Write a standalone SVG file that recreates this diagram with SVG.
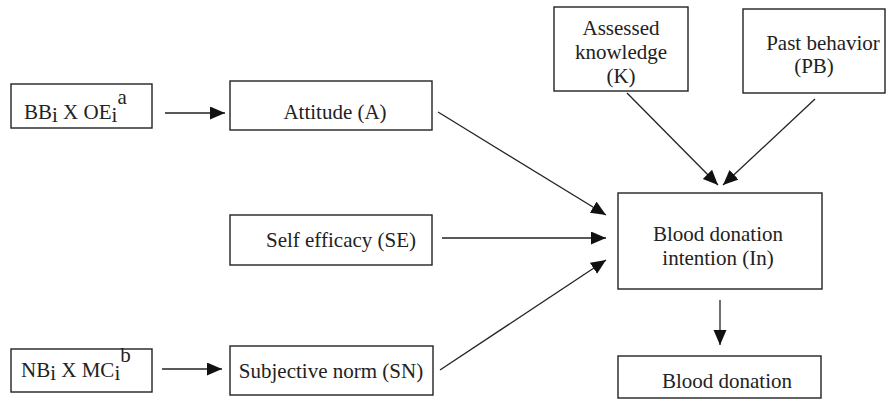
<svg xmlns="http://www.w3.org/2000/svg" width="887" height="404" viewBox="0 0 887 404">
<style>
.box{fill:#fff;stroke:#222;stroke-width:1.4}
.t{font-family:"Liberation Serif","Times New Roman",serif;font-size:21px;fill:#222}
.m{text-anchor:middle}
.c{stroke:#222;stroke-width:1.3;fill:none;marker-end:url(#ah)}
</style>
<defs>
<marker id="ah" markerUnits="userSpaceOnUse" markerWidth="16" markerHeight="14" refX="15" refY="6.5" orient="auto">
<path d="M0,0 L15,6.5 L0,13 z" fill="#111"/>
</marker>
</defs>
<rect width="887" height="404" fill="#fff"/>
<g id="bb">
<rect class="box" x="11" y="84" width="141" height="44"/>
<text class="t" x="24" y="119">BB<tspan dy="3">i</tspan><tspan dy="-3"> X OE</tspan><tspan dy="3">i</tspan><tspan dy="-18">a</tspan></text>
</g>
<g id="attitude">
<rect class="box" x="230" y="81" width="202" height="49"/>
<text class="t m" x="335" y="119">Attitude (A)</text>
</g>
<g id="selfefficacy">
<rect class="box" x="230" y="215" width="202" height="50"/>
<text class="t m" x="341" y="247">Self efficacy (SE)</text>
</g>
<g id="nb">
<rect class="box" x="11" y="349" width="141" height="43"/>
<text class="t" x="21" y="377">NB<tspan dy="3">i</tspan><tspan dy="-3"> X MC</tspan><tspan dy="3">i</tspan><tspan dy="-18">b</tspan></text>
</g>
<g id="subjectivenorm">
<rect class="box" x="230" y="346" width="203" height="49"/>
<text class="t m" x="331" y="378">Subjective norm (SN)</text>
</g>
<g id="knowledge">
<rect class="box" x="554" y="7" width="134" height="84"/>
<text class="t m" x="621" y="35">Assessed</text>
<text class="t m" x="621" y="59">knowledge</text>
<text class="t m" x="621" y="83">(K)</text>
</g>
<g id="pastbehavior">
<rect class="box" x="743" y="9" width="142" height="84"/>
<text class="t m" x="823" y="50">Past behavior</text>
<text class="t m" x="814" y="73">(PB)</text>
</g>
<g id="intention">
<rect class="box" x="618" y="193" width="204" height="96"/>
<text class="t m" x="718" y="241">Blood donation</text>
<text class="t m" x="718" y="265">intention (In)</text>
</g>
<g id="donation">
<rect class="box" x="618" y="356" width="203" height="42"/>
<text class="t m" x="727" y="388">Blood donation</text>
</g>
<g id="connectors">
<line class="c" x1="165" y1="113" x2="225" y2="113"/>
<line class="c" x1="162" y1="369" x2="222" y2="369"/>
<line class="c" x1="438" y1="112" x2="606" y2="215"/>
<line class="c" x1="442" y1="238" x2="606" y2="238"/>
<line class="c" x1="440" y1="370" x2="606" y2="260"/>
<line class="c" x1="627" y1="93" x2="718" y2="185"/>
<line class="c" x1="815" y1="99" x2="723" y2="185"/>
<line class="c" x1="720" y1="300" x2="720" y2="345"/>
</g>
</svg>
